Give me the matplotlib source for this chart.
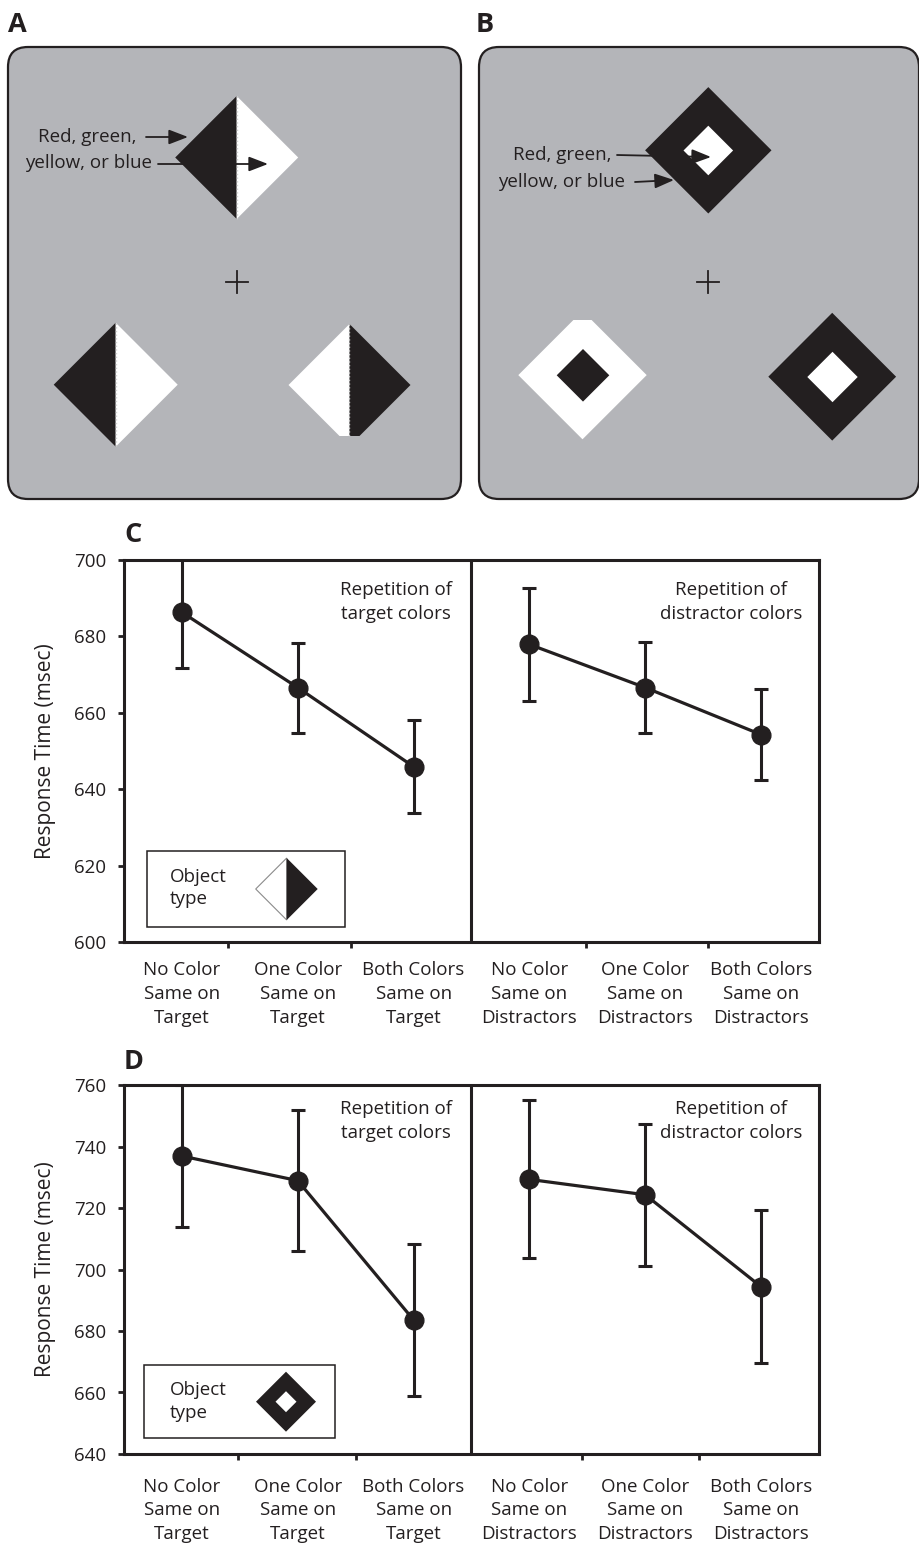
import matplotlib
matplotlib.use("Agg")
import matplotlib.pyplot as plt
from matplotlib.patches import FancyBboxPatch, Polygon, Rectangle
from matplotlib.ticker import FixedLocator

plt.rcParams['font.family'] = ['Open Sans', 'DejaVu Sans']

# ---------------- data ----------------
conditions_target = ["No Color\nSame on\nTarget", "One Color\nSame on\nTarget", "Both Colors\nSame on\nTarget"]
conditions_distr = ["No Color\nSame on\nDistractors", "One Color\nSame on\nDistractors", "Both Colors\nSame on\nDistractors"]

c_target_rt = [686.3, 666.6, 645.9]
c_target_err = [14.5, 11.8, 12.2]
c_distr_rt = [677.9, 666.6, 654.3]
c_distr_err = [14.8, 12.0, 12.0]

d_target_rt = [736.9, 728.9, 683.6]
d_target_err = [23.0, 23.0, 24.6]
d_distr_rt = [729.3, 724.3, 694.4]
d_distr_err = [25.7, 23.0, 24.8]

c_yticks = [600, 620, 640, 660, 680, 700]
d_yticks = [640, 660, 680, 700, 720, 740, 760]

DARK = '#231f20'
GRAY = '#b4b5b9'
FS = 13.5

W, H = 920, 1546
fig = plt.figure(figsize=(W / 100, H / 100), dpi=100)


def chart(rect, t_rt, t_err, d_rt, d_err, yticks, minor_x, ann_y, xpad):
    ax = fig.add_axes(rect)
    xs_t = [0.5, 1.5, 2.5]
    xs_d = [3.5, 4.5, 5.5]
    for xs, rt, er in ((xs_t, t_rt, t_err), (xs_d, d_rt, d_err)):
        ax.errorbar(xs, rt, yerr=er, fmt='none', ecolor=DARK, elinewidth=2.2,
                    capsize=5.2, capthick=2.2, zorder=2)
        ax.plot(xs, rt, color=DARK, lw=2.3, marker='o', markersize=13.5,
                markerfacecolor=DARK, markeredgecolor=DARK, zorder=3)
    ax.axvline(3.0, color=DARK, lw=2.2, zorder=1)
    ax.set_xlim(0, 6)
    ax.set_ylim(yticks[0], yticks[-1])
    ax.set_yticks(yticks)
    ax.set_xticks(xs_t + xs_d)
    ax.set_xticklabels(conditions_target + conditions_distr, fontsize=FS, color=DARK, linespacing=1.42)
    ax.xaxis.set_minor_locator(FixedLocator(minor_x))
    ax.tick_params(axis='x', which='major', length=0, pad=xpad)
    ax.tick_params(axis='x', which='minor', length=4, width=2.0, direction='out', color=DARK)
    ax.tick_params(axis='y', length=4, width=2.0, direction='out', color=DARK, pad=9,
                   labelsize=FS, labelcolor=DARK)
    for s in ax.spines.values():
        s.set_linewidth(2.2)
        s.set_color(DARK)
    ax.set_ylabel("Response Time (msec)", fontsize=15, color=DARK, labelpad=13)
    ax.text(2.35, ann_y, "Repetition of\ntarget colors", transform=ax.get_xaxis_transform(),
            ha='center', va='center', fontsize=FS, color=DARK, linespacing=1.4)
    ax.text(5.24, ann_y, "Repetition of\ndistractor colors", transform=ax.get_xaxis_transform(),
            ha='center', va='center', fontsize=FS, color=DARK, linespacing=1.4)
    return ax


ax_c = chart([124 / W, 1 - 942 / H, 695 / W, 382 / H],
             c_target_rt, c_target_err, c_distr_rt, c_distr_err, c_yticks,
             [0.90, 1.957, 3.989, 5.045], (942 - 602) / 382, 14)
ax_d = chart([124 / W, 1 - 1454 / H, 695 / W, 369 / H],
             d_target_rt, d_target_err, d_distr_rt, d_distr_err, d_yticks,
             [0.987, 2.003, 3.951, 4.966], (1454 - 1121) / 369, 17)

# ---------------- overlay in pixel coordinates ----------------
ov = fig.add_axes([0, 0, 1, 1], zorder=10)
ov.set_xlim(0, W)
ov.set_ylim(H, 0)
ov.axis('off')
ov.patch.set_alpha(0)


def half_diamond(cx, cy, h, side, color, bottom_cut=None, ec='none', lw=0):
    s = -1 if side == 'left' else 1
    if bottom_cut is None:
        pts = [(cx, cy - h), (cx + s * h, cy), (cx, cy + h)]
    else:
        d = cy + h - bottom_cut
        pts = [(cx, cy - h), (cx + s * h, cy), (cx + s * d, bottom_cut), (cx, bottom_cut)]
    ov.add_patch(Polygon(pts, closed=True, facecolor=color, edgecolor=ec, lw=lw))


def full_diamond(cx, cy, h, color, top_cut=None):
    if top_cut is None:
        pts = [(cx, cy - h), (cx + h, cy), (cx, cy + h), (cx - h, cy)]
    else:
        d = top_cut - (cy - h)
        pts = [(cx - d, top_cut), (cx + d, top_cut), (cx + h, cy), (cx, cy + h), (cx - h, cy)]
    ov.add_patch(Polygon(pts, closed=True, facecolor=color, edgecolor='none'))


def cross(cx, cy, a=11):
    ov.plot([cx - a, cx + a], [cy, cy], color=DARK, lw=1.3)
    ov.plot([cx, cx], [cy - a, cy + a], color=DARK, lw=1.3)


def arrow(x0, y0, x1, y1):
    ov.annotate('', xy=(x1, y1), xytext=(x0, y0),
                arrowprops=dict(arrowstyle='-|>,head_length=0.65,head_width=0.25',
                                lw=1.3, color=DARK, shrinkA=0, shrinkB=0, mutation_scale=18))


# panel A
ov.add_patch(FancyBboxPatch((8, 47), 453, 452, boxstyle="round,pad=0,rounding_size=20",
                            facecolor=GRAY, edgecolor=DARK, lw=1.6))
half_diamond(236.7, 157.5, 61.5, 'left', DARK)
half_diamond(236.7, 157.5, 61.5, 'right', 'white')
ov.plot([236.7, 236.7], [96, 219], color='#d0d0d0', lw=1, ls=':')
half_diamond(115.7, 384.7, 62, 'left', DARK)
half_diamond(115.7, 384.7, 62, 'right', 'white')
ov.plot([115.7, 115.7], [323, 446], color='#d0d0d0', lw=1, ls=':')
half_diamond(349.5, 385, 61, 'left', 'white', bottom_cut=436)
half_diamond(349.5, 385, 61, 'right', DARK, bottom_cut=436)
ov.plot([349.5, 349.5], [324, 436], color='#d0d0d0', lw=1, ls=':')
cross(236.7, 281.7)
ov.text(137, 137, "Red, green,", ha='right', va='center', fontsize=13.5, color=DARK)
ov.text(152, 163, "yellow, or blue", ha='right', va='center', fontsize=13.5, color=DARK)
arrow(146, 137, 188, 137)
arrow(158, 164, 268, 164)

# panel B
ov.add_patch(FancyBboxPatch((479, 47), 440, 452, boxstyle="round,pad=0,rounding_size=20",
                            facecolor=GRAY, edgecolor=DARK, lw=1.6))
full_diamond(708.3, 150.3, 63.2, DARK)
full_diamond(708.3, 150.5, 24.8, 'white')
full_diamond(582.5, 375.1, 64.2, 'white', top_cut=320)
full_diamond(583, 375.3, 26.3, DARK)
full_diamond(832.2, 376.7, 63.9, DARK)
full_diamond(832.5, 377, 25.2, 'white')
cross(708.3, 281.7)
ov.text(612, 155, "Red, green,", ha='right', va='center', fontsize=13.5, color=DARK)
ov.text(625, 182, "yellow, or blue", ha='right', va='center', fontsize=13.5, color=DARK)
arrow(617, 155, 711, 157)
arrow(635, 182, 674, 180)

# legends in C and D
ov.add_patch(Rectangle((146.7, 850.7), 198.3, 76, facecolor='white', edgecolor=DARK, lw=1.1))
ov.text(170, 888, "Object\ntype", ha='left', va='center', fontsize=FS, color=DARK, linespacing=1.35)
half_diamond(286.7, 889, 31, 'left', 'white', ec='#8a8a8a', lw=0.8)
half_diamond(286.7, 889, 31, 'right', DARK)

ov.add_patch(Rectangle((144.3, 1365), 190.7, 73.3, facecolor='white', edgecolor=DARK, lw=1.1))
ov.text(170, 1401.5, "Object\ntype", ha='left', va='center', fontsize=FS, color=DARK, linespacing=1.35)
full_diamond(286, 1401.7, 30, DARK)
full_diamond(286, 1401.7, 10.5, 'white')

# panel letters
for lx, ly, lt in ((8, 25, 'A'), (476, 25, 'B'), (124, 535, 'C'), (124, 1062, 'D')):
    ov.text(lx, ly, lt, ha='left', va='center', fontsize=19.5, fontweight='bold', color=DARK)

fig.savefig("out.png", dpi=100)
